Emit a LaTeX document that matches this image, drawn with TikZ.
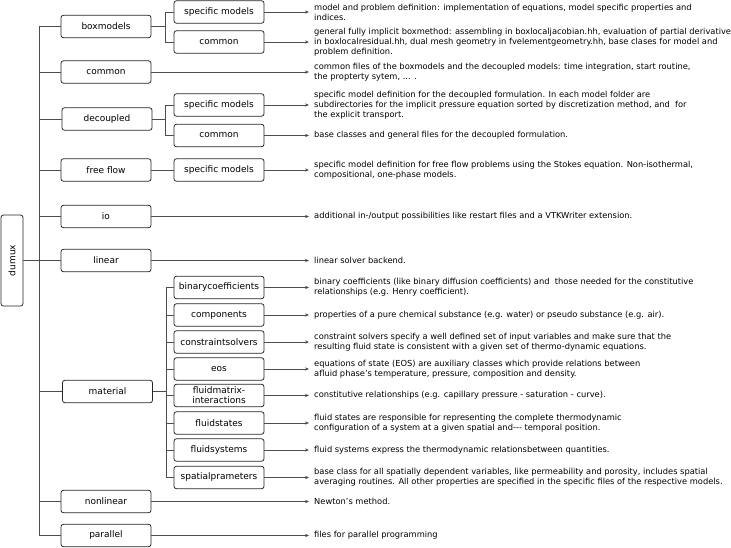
\documentclass[tikz,border=0pt]{standalone}
\usepackage{fontspec}
\setmainfont{DejaVu Sans}
\usetikzlibrary{arrows.meta}
\begin{document}
\begin{tikzpicture}[x=1pt,y=-1pt,
  box/.style={draw=black!85, line width=0.8pt, rounded corners=2.5pt, minimum width=90pt, minimum height=22.5pt, inner sep=0pt, font=\fontsize{9}{10.5}\selectfont, align=center},
  rootbox/.style={box, rotate=90, minimum width=91pt, minimum height=22pt},
  desc/.style={anchor=west, inner sep=0pt, inner xsep=5pt, align=left, font=\fontsize{8.3}{10}\selectfont},
  ln/.style={draw=black!70, line width=0.7pt},
  arr/.style={ln, -{Stealth[length=4pt,width=3.2pt]}}]
\useasboundingbox (0,0) rectangle (731,548);
% root
\node[rootbox] (dumux) at (12,260.5) {dumux};
% level 1
\node[box] (boxmodels) at (106,26.5) {boxmodels};
\node[box] (common) at (106,72) {common};
\node[box] (decoupled) at (107,119) {decoupled};
\node[box] (freeflow) at (106,170) {free flow};
\node[box] (io) at (106,216.5) {io};
\node[box] (linear) at (106,260.5) {linear};
\node[box] (material) at (107.5,391.5) {material};
\node[box] (nonlinear) at (106,501.5) {nonlinear};
\node[box] (parallel) at (106,535.5) {parallel};
% level 2
\node[box] (bmspec) at (219,12) {specific models};
\node[box] (bmcom) at (219,42) {common};
\node[box] (decspec) at (219,105) {specific models};
\node[box] (deccom) at (219,135.5) {common};
\node[box] (ffspec) at (219,170) {specific models};
\node[box] (bin) at (219,287.5) {binarycoefficients};
\node[box] (comp) at (219,315) {components};
\node[box] (cons) at (219,342) {constraintsolvers};
\node[box] (eos) at (219,369) {eos};
\node[box, font=\fontsize{9}{10}\selectfont] (fmi) at (219,395.5) {fluidmatrix-\\interactions};
\node[box] (fst) at (219,423) {fluidstates};
\node[box] (fsy) at (219,450) {fluidsystems};
\node[box] (spa) at (219,477.5) {spatialprameters};
% trunk
\coordinate (tk) at (39,0);
\draw[ln] (tk|-boxmodels.west) -- (tk|-parallel.west);
\draw[ln] (dumux.south) -- (tk|-dumux.south);
\foreach \n in {boxmodels,common,decoupled,freeflow,io,linear,material,nonlinear,parallel}
  \draw[ln] (tk|-\n.west) -- (\n.west);
% brackets
\draw[ln] (boxmodels.east) -- ++(14,0) |- (bmspec.west);
\draw[ln] (boxmodels.east) -- ++(14,0) |- (bmcom.west);
\draw[ln] (decoupled.east) -- ++(13,0) |- (decspec.west);
\draw[ln] (decoupled.east) -- ++(13,0) |- (deccom.west);
\draw[ln] (freeflow.east) -- (ffspec.west);
\coordinate (mb) at (166,0);
\draw[ln] (material.east) -- (mb|-material.east);
\draw[ln] (mb|-bin.west) -- (mb|-spa.west);
\foreach \n in {bin,comp,cons,eos,fmi,fst,fsy,spa}
  \draw[ln] (mb|-\n.west) -- (\n.west);
% descriptions
\node[desc] (d1) at (309,12) {model and problem definition: implementation of equations, model specific properties and\\indices.};
\node[desc] (d2) at (309,42) {general fully implicit boxmethod: assembling in boxlocaljacobian.hh, evaluation of partial derivative\\in boxlocalresidual.hh, dual mesh geometry in fvelementgeometry.hh, base clases for model and\\problem definition.};
\node[desc] (d3) at (309,72) {common files of the boxmodels and the decoupled models: time integration, start routine,\\the propterty sytem, ... .};
\node[desc] (d4) at (309,105) {specific model definition for the decoupled formulation. In each model folder are\\subdirectories for the implicit pressure equation sorted by discretization method, and\ \ for\\the explicit transport.};
\node[desc] (d5) at (309,135.5) {base classes and general files for the decoupled formulation.};
\node[desc] (d6) at (309,170) {specific model definition for free flow problems using the Stokes equation. Non-isothermal,\\compositional, one-phase models.};
\node[desc] (d7) at (309,216.5) {additional in-/output possibilities like restart files and a VTKWriter extension.};
\node[desc] (d8) at (309,260.5) {linear solver backend.};
\node[desc] (d9) at (309,287.5) {binary coefficients (like binary diffusion coefficients) and\ \ those needed for the constitutive\\relationships (e.g. Henry coefficient).};
\node[desc] (d10) at (309,315) {properties of a pure chemical substance (e.g. water) or pseudo substance (e.g. air).};
\node[desc] (d11) at (309,342) {constraint solvers specify a well defined set of input variables and make sure that the\\resulting fluid state is consistent with a given set of thermo-dynamic equations.};
\node[desc] (d12) at (309,369) {equations of state (EOS) are auxiliary classes which provide relations between\\afluid phase’s temperature, pressure, composition and density.};
\node[desc] (d13) at (309,395.5) {constitutive relationships (e.g. capillary pressure - saturation - curve).};
\node[desc] (d14) at (309,423) {fluid states are responsible for representing the complete thermodynamic\\configuration of a system at a given spatial and{-}{-}{-} temporal position.};
\node[desc] (d15) at (309,450) {fluid systems express the thermodynamic relationsbetween quantities.};
\node[desc] (d16) at (309,477.5) {base class for all spatially dependent variables, like permeability and porosity, includes spatial\\averaging routines. All other properties are specified in the specific files of the respective models.};
\node[desc] (d17) at (309,501.5) {Newton's method.};
\node[desc] (d18) at (309,535.5) {files for parallel programming};
% arrows
\draw[arr] (bmspec.east) -- (d1.west);
\draw[arr] (bmcom.east) -- (d2.west);
\draw[arr] (common.east) -- (d3.west);
\draw[arr] (decspec.east) -- (d4.west);
\draw[arr] (deccom.east) -- (d5.west);
\draw[arr] (ffspec.east) -- (d6.west);
\draw[arr] (io.east) -- (d7.west);
\draw[arr] (linear.east) -- (d8.west);
\draw[arr] (bin.east) -- (d9.west);
\draw[arr] (comp.east) -- (d10.west);
\draw[arr] (cons.east) -- (d11.west);
\draw[arr] (eos.east) -- (d12.west);
\draw[arr] (fmi.east) -- (d13.west);
\draw[arr] (fst.east) -- (d14.west);
\draw[arr] (fsy.east) -- (d15.west);
\draw[arr] (spa.east) -- (d16.west);
\draw[arr] (nonlinear.east) -- (d17.west);
\draw[arr] (parallel.east) -- (d18.west);
\end{tikzpicture}
\end{document}
